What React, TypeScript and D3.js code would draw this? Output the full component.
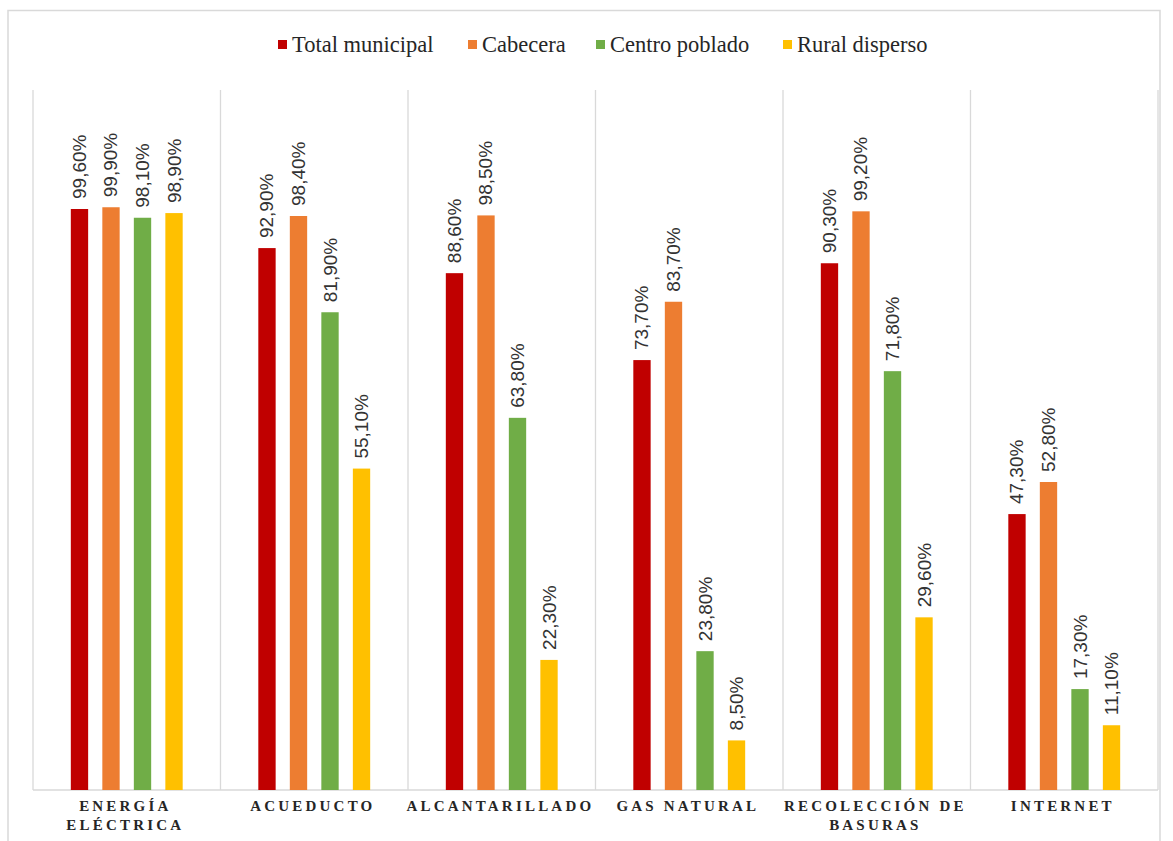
import React from "react";
import * as d3 from "d3";

const categories: string[][] = [
  ["ENERGÍA", "ELÉCTRICA"],
  ["ACUEDUCTO"],
  ["ALCANTARILLADO"],
  ["GAS NATURAL"],
  ["RECOLECCIÓN DE", "BASURAS"],
  ["INTERNET"],
];
const seriesNames = ["Total municipal", "Cabecera", "Centro poblado", "Rural disperso"];
const seriesColors = ["#C00000", "#ED7D31", "#70AD47", "#FFC000"];
const totalMunicipal = [99.6, 92.9, 88.6, 73.7, 90.3, 47.3];
const cabecera = [99.9, 98.4, 98.5, 83.7, 99.2, 52.8];
const centroPoblado = [98.1, 81.9, 63.8, 23.8, 71.8, 17.3];
const ruralDisperso = [98.9, 55.1, 22.3, 8.5, 29.6, 11.1];
const seriesValues = [totalMunicipal, cabecera, centroPoblado, ruralDisperso];

const W = 1173;
const H = 841;
const left = 33;
const right = 1158;
const top = 90;
const bottom = 790;
const serif = "Liberation Serif";
const sans = "Liberation Sans";

const fmt = (v: number) => v.toFixed(2).replace(".", ",") + "%";

export default function App() {
  const x0 = d3
    .scaleBand<number>()
    .domain(categories.map((_, i) => i))
    .range([left, right])
    .paddingInner(0)
    .paddingOuter(0);
  const x1 = d3
    .scaleBand<number>()
    .domain(seriesNames.map((_, i) => i))
    .range([0, x0.bandwidth()])
    .paddingInner(0.45)
    .paddingOuter(1.2);
  const y = d3.scaleLinear().domain([0, 120]).range([bottom, top]);

  const legendX = [278, 468, 596, 783];
  const ls = 3.2;

  return (
    <svg
      width={W}
      height={H}
      style={{ position: "absolute", left: 0, top: 0, background: "#fff" }}
    >
      <rect x={8} y={10.5} width={1152} height={840} fill="#fff" stroke="#d9d9d9" strokeWidth={1.5} />
      {/* legend */}
      {seriesNames.map((s, i) => (
        <g key={s}>
          <rect x={legendX[i]} y={40} width={9} height={9} fill={seriesColors[i]} />
          <text x={legendX[i] + 14} y={52} fontFamily={serif} fontSize={22.5} fill="#262626">
            {s}
          </text>
        </g>
      ))}
      {/* vertical category separators */}
      {d3.range(categories.length + 1).map((i) => {
        const xx = i < categories.length ? x0(i)! : right;
        return (
          <line key={i} x1={xx} x2={xx} y1={top} y2={bottom} stroke="#d9d9d9" strokeWidth={1.3} />
        );
      })}
      <line x1={left} x2={right} y1={bottom} y2={bottom} stroke="#d9d9d9" strokeWidth={1.3} />
      {/* bars */}
      {categories.map((_, ci) =>
        seriesValues.map((vals, si) => {
          const bx = x0(ci)! + x1(si)!;
          const v = vals[ci];
          const yy = y(v);
          const cx = bx + x1.bandwidth() / 2;
          return (
            <g key={`${ci}-${si}`}>
              <rect x={bx} y={yy} width={x1.bandwidth()} height={bottom - yy} fill={seriesColors[si]} />
              <text
                transform={`translate(${cx + 6.5},${yy - 10}) rotate(-90)`}
                fontFamily={sans}
                fontSize={19}
                fill="#333"
              >
                {fmt(v)}
              </text>
            </g>
          );
        })
      )}
      {/* category labels */}
      {categories.map((lines, ci) => {
        const cx = x0(ci)! + x0.bandwidth() / 2;
        return (
          <text
            key={ci}
            textAnchor="middle"
            fontFamily={serif}
            letterSpacing={ls}
            fontSize={15}
            fontWeight="bold"
            fill="#262626"
          >
            {lines.map((l, li) => (
              <tspan key={li} x={cx + ls / 2 - 3} y={811 + li * 19}>
                {l}
              </tspan>
            ))}
          </text>
        );
      })}
    </svg>
  );
}
